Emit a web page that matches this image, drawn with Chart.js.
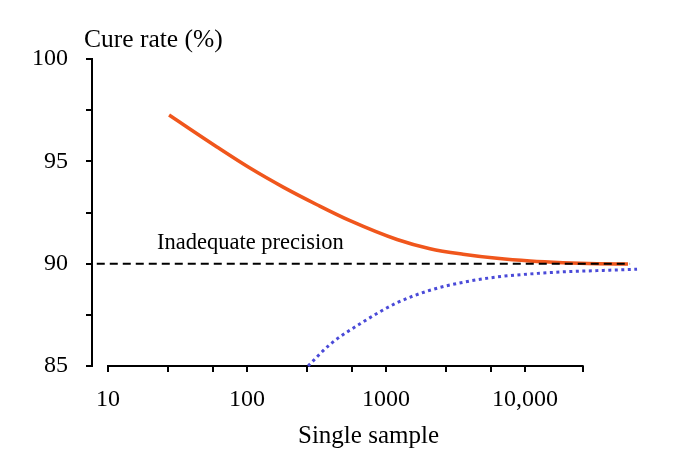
<!DOCTYPE html>
<html>
<head>
<meta charset="utf-8">
<script src="https://cdn.jsdelivr.net/npm/chart.js@4/dist/chart.umd.min.js"></script>
<style>
	html, body { margin: 0; padding: 0; background: white; }
	#wrap { width: 685px; height: 471px; }
</style>
</head>
<body>
<div id="wrap"><canvas id="cureChart"></canvas></div>
<script>
// Sample size (log axis) against cure rate
const upperSamples = [27.5, 60.8, 105, 182, 319, 551, 1200, 2073, 3581, 6295, 10870, 18750, 32950, 55100];
const upperRates = [97.26, 95.7, 94.67, 93.74, 92.88, 92.1, 91.18, 90.73, 90.46, 90.26, 90.13, 90.05, 90.0, 89.98];

const lowerSamples = [275, 395, 683, 1200, 2073, 3584, 6290, 10870, 18750, 32950, 64000];
const lowerRates = [85.0, 86.05, 87.15, 88.09, 88.7, 89.09, 89.35, 89.5, 89.6, 89.66, 89.73];

const thresholdSamples = [8.3, 57000];
const thresholdRates = [90, 90];

const xTickValues = [10, 27, 57, 100, 270, 570, 1000, 2700, 5700, 10000, 26000];
const xTickLabels = { 10: "10", 100: "100", 1000: "1000", 10000: "10,000" };
const yTickValues = [85, 87.5, 90, 92.5, 95, 97.5, 100];

const serif = "'Liberation Serif', 'Times New Roman', serif";

function toPoints(xs, ys) {
	return xs.map((x, i) => ({ x: x, y: ys[i] }));
}

// Draws the short x axis line and the free text
const extrasPlugin = {
	id: "extras",
	beforeDatasetsDraw: function (chart) {
		const ctx = chart.ctx;
		const x = chart.scales.x;
		ctx.save();
		ctx.strokeStyle = "black";
		ctx.lineWidth = 2;
		ctx.beginPath();
		ctx.moveTo(x.getPixelForValue(xTickValues[0]) - 1, chart.chartArea.bottom);
		ctx.lineTo(x.getPixelForValue(xTickValues[xTickValues.length - 1]) + 1, chart.chartArea.bottom);
		ctx.stroke();
		ctx.restore();
	},
	afterDraw: function (chart) {
		const ctx = chart.ctx;
		const x = chart.scales.x;
		const y = chart.scales.y;
		ctx.save();
		ctx.fillStyle = "black";
		ctx.textBaseline = "middle";
		ctx.textAlign = "left";
		ctx.font = "25.5px " + serif;
		ctx.fillText("Cure rate (%)", 84, 40);
		ctx.font = "22.5px " + serif;
		ctx.fillText("Inadequate precision", x.getPixelForValue(22.5), y.getPixelForValue(91.0));
		ctx.restore();
	},
};

const cureChart = new Chart(document.getElementById("cureChart").getContext("2d"), {
	type: "line",
	data: {
		datasets: [
			{
				data: toPoints(thresholdSamples, thresholdRates),
				borderColor: "black",
				borderWidth: 2,
				borderDash: [8, 5],
				pointRadius: 0,
				tension: 0,
			},
			{
				data: toPoints(upperSamples, upperRates),
				borderColor: "#f0561c",
				borderWidth: 3.5,
				pointRadius: 0,
				cubicInterpolationMode: "monotone",
			},
			{
				data: toPoints(lowerSamples, lowerRates),
				borderColor: "#4a4ad8",
				borderWidth: 3,
				borderDash: [3, 3.5],
				borderCapStyle: "butt",
				pointRadius: 0,
				cubicInterpolationMode: "monotone",
			},
		],
	},
	options: {
		responsive: true,
		maintainAspectRatio: false,
		animation: false,
		clip: false,
		layout: {
			padding: { top: 59, right: 40, left: 0, bottom: 0 },
		},
		plugins: {
			legend: { display: false },
			tooltip: { enabled: false },
		},
		scales: {
			x: {
				type: "logarithmic",
				min: 7.67,
				max: 73000,
				afterFit: function (scale) {
					scale.height = 105;
				},
				afterBuildTicks: function (scale) {
					scale.ticks = xTickValues.map((v) => ({ value: v }));
				},
				border: { display: false },
				grid: {
					drawOnChartArea: false,
					drawTicks: true,
					tickLength: 6,
					color: "black",
					lineWidth: 2,
				},
				ticks: {
					autoSkip: false,
					maxRotation: 0,
					padding: 13,
					color: "black",
					font: { family: serif, size: 24 },
					callback: function (value) {
						return xTickLabels[value] || "";
					},
				},
				title: {
					display: true,
					text: "Single sample",
					color: "black",
					font: { family: serif, size: 25 },
					padding: { top: 0, bottom: 20 },
				},
			},
			y: {
				min: 85,
				max: 100,
				afterFit: function (scale) {
					scale.width = 92;
				},
				afterBuildTicks: function (scale) {
					scale.ticks = yTickValues.map((v) => ({ value: v }));
				},
				border: { display: true, color: "black", width: 2 },
				grid: {
					drawOnChartArea: false,
					drawTicks: true,
					tickLength: 6,
					color: "black",
					lineWidth: 2,
				},
				ticks: {
					autoSkip: false,
					padding: 18,
					color: "black",
					font: { family: serif, size: 24 },
					callback: function (value) {
						return value % 5 === 0 ? String(value) : "";
					},
				},
			},
		},
	},
	plugins: [extrasPlugin],
});
</script>
</body>
</html>
